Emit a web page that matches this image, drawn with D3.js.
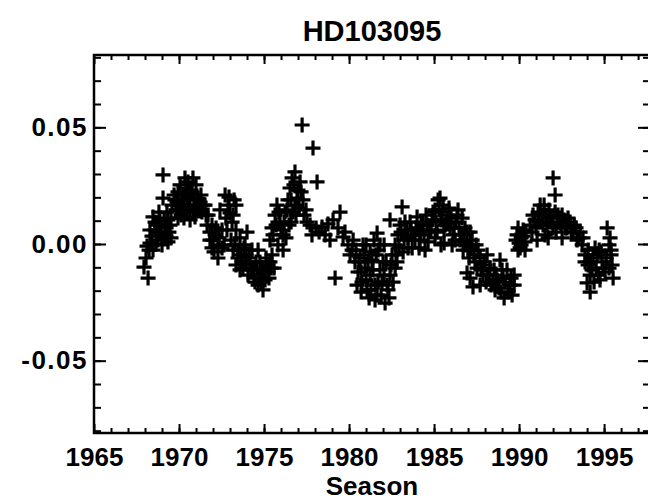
<!DOCTYPE html>
<html>
<head>
<meta charset="utf-8">
<script src="https://cdn.jsdelivr.net/npm/d3@7"></script>
<style>
	body { margin: 0; background: #fff; }
	svg text { font-family: "Liberation Sans", Arial, sans-serif; font-weight: bold; fill: #000; }
</style>
</head>
<body>
<svg id="chart" width="648" height="503"></svg>
<script>
//Star name and axis title.
const starName = 'HD103095';
const xTitle = 'Season';
//Labelled ticks.
const xTicks = [1965, 1970, 1975, 1980, 1985, 1990, 1995];
const yTicks = [-0.05, 0.00, 0.05];
//Observing season (year), one line per season group.
const seasonYear = [
	1967.94, 1968.18, 1968.06, 1968.24, 1968.29, 1968.41, 1968.47, 1968.29, 1968.12,
	1968.71, 1968.88, 1969.06, 1969.24, 1969.35, 1968.76, 1969.00, 1969.18, 1969.47, 1969.29, 1968.88, 1969.06, 1969.06, 1969.35, 1968.59,
	1968.59, 1968.76, 1968.94, 1969.12, 1969.24, 1969.41, 1969.53, 1968.65, 1968.47, 1968.82, 1969.53,
	1969.76, 1969.94, 1970.06, 1970.24, 1970.41, 1970.59, 1970.76, 1970.94, 1971.12, 1969.82, 1970.12, 1970.47, 1970.82, 1971.18, 1971.41, 1971.59, 1970.35, 1970.82, 1970.65, 1969.94, 1971.00, 1971.29,
	1969.59, 1969.71, 1969.88, 1970.00, 1970.18, 1970.29, 1970.47, 1970.65, 1970.71, 1970.88, 1971.06, 1971.24, 1971.35, 1971.53, 1970.29, 1970.94, 1970.06, 1970.53,
	1971.71, 1971.94, 1972.12, 1971.82, 1972.29, 1972.06, 1972.53, 1972.71, 1972.88, 1973.00, 1973.12, 1972.76, 1973.24, 1972.41, 1973.35, 1974.00, 1973.59, 1972.65, 1972.29,
	1971.65, 1971.82, 1972.00, 1972.18, 1972.35, 1972.53, 1971.94, 1972.82, 1973.06, 1973.18, 1973.35, 1972.94,
	1973.18, 1973.47, 1973.71, 1973.94, 1974.18, 1974.35, 1974.53, 1974.71, 1974.88, 1975.06, 1975.24, 1974.94, 1974.47, 1974.06, 1973.59, 1975.35, 1975.47, 1973.35, 1973.88, 1974.65, 1975.12, 1975.59,
	1973.29, 1973.47, 1973.65, 1973.76, 1973.94, 1974.12, 1974.24, 1974.41, 1974.59, 1974.76, 1974.82, 1975.00, 1975.18, 1975.29, 1975.41, 1974.29, 1974.65, 1973.82,
	1975.35, 1975.47, 1975.65, 1975.76, 1975.94, 1976.12, 1976.24, 1976.41, 1976.53, 1976.65, 1976.82, 1977.00, 1977.12, 1977.29, 1977.47, 1976.82, 1976.47, 1976.12, 1978.12, 1977.24, 1977.88, 1975.82, 1976.88,
	1975.53, 1975.71, 1975.88, 1976.00, 1976.18, 1976.35, 1976.29, 1976.59, 1976.71, 1976.94, 1977.06, 1977.18, 1977.35, 1976.76, 1976.59,
	1977.71, 1978.06, 1978.41, 1978.76, 1979.06, 1979.35, 1979.65, 1978.88, 1977.82, 1979.18, 1979.94, 1980.06, 1979.47,
	1977.53, 1978.24, 1978.59, 1979.76,
	1980.18, 1980.35, 1980.53, 1980.65, 1980.76, 1980.94, 1981.06, 1981.24, 1981.35, 1981.53, 1981.65, 1981.82, 1981.94, 1982.12, 1982.18, 1982.29, 1982.41, 1982.53, 1980.82, 1981.71, 1981.18, 1980.47, 1982.71, 1981.47,
	1980.24, 1980.41, 1980.59, 1980.71, 1980.88, 1981.00, 1981.12, 1981.29, 1981.41, 1981.59, 1981.71, 1981.88, 1982.00, 1982.06, 1982.24, 1982.35, 1982.47, 1982.59, 1980.71, 1981.53, 1981.00, 1981.24, 1981.82,
	1982.71, 1982.88, 1983.00, 1983.12, 1983.24, 1983.41, 1983.59, 1983.76, 1983.94, 1984.00, 1984.18, 1984.35, 1984.53, 1984.71, 1984.88, 1985.06, 1985.24, 1985.35, 1985.47, 1985.65, 1985.82, 1985.94, 1986.12, 1986.29, 1982.41, 1981.65, 1982.06, 1982.76, 1983.47, 1984.18, 1985.06, 1985.59, 1986.06,
	1982.82, 1982.94, 1983.06, 1983.18, 1983.29, 1983.47, 1983.65, 1983.71, 1983.88, 1984.06, 1984.12, 1984.24, 1984.41, 1984.59, 1984.65, 1984.82, 1984.94, 1985.12, 1985.18, 1985.29, 1985.41, 1985.53, 1985.59, 1985.76, 1985.88, 1986.00, 1986.18, 1986.35, 1986.24, 1984.47, 1985.41,
	1986.53, 1986.71, 1986.88, 1987.06, 1987.24, 1987.41, 1987.59, 1987.76, 1987.94, 1988.12, 1988.29, 1988.47, 1988.65, 1988.82, 1989.00, 1989.18, 1989.35, 1989.53, 1989.71, 1986.94, 1987.29, 1988.12, 1988.88, 1987.71, 1986.41, 1986.65, 1986.82, 1987.12,
	1986.47, 1986.65, 1986.76, 1986.94, 1987.00, 1987.18, 1987.35, 1987.47, 1987.53, 1987.71, 1987.88, 1988.00, 1988.06, 1988.24, 1988.35, 1988.53, 1988.59, 1988.71, 1988.94, 1989.06, 1989.12, 1989.29, 1989.47, 1989.59, 1989.71, 1987.12,
	1989.88, 1990.00, 1990.12, 1990.24, 1990.06, 1990.35, 1989.94,
	1989.82, 1989.94, 1990.12, 1990.24, 1990.41, 1990.35,
	1990.76, 1990.94, 1991.12, 1991.24, 1991.41, 1991.59, 1991.76, 1991.94, 1992.00, 1992.12, 1992.29, 1992.47, 1992.65, 1992.82, 1993.00, 1993.18, 1993.35, 1993.53, 1991.53, 1992.18, 1992.53,
	1990.65, 1990.82, 1991.00, 1991.18, 1991.35, 1991.47, 1991.65, 1991.82, 1992.00, 1992.12, 1992.35, 1992.53, 1992.71, 1992.88, 1993.06, 1993.24, 1993.41, 1993.59, 1991.71, 1991.06,
	1993.71, 1993.88, 1994.06, 1994.18, 1994.00, 1994.18, 1994.35, 1994.53, 1994.71, 1994.88, 1995.06, 1995.18, 1995.29, 1995.41, 1995.47, 1995.53, 1994.76, 1994.47,
	1993.76, 1993.88, 1994.06, 1994.18, 1994.29, 1994.41, 1994.59, 1994.65, 1994.82, 1994.94, 1995.12, 1995.35, 1995.41, 1995.29
];
//Relative variation, same order as seasonYear.
const deltaS = [
	-0.0099, -0.0146, -0.0060, -0.0026, 0.0004, 0.0034, 0.0116, 0.0060, -0.0009,
	0.0081, 0.0051, 0.0026, 0.0069, 0.0103, 0.0017, -0.0004, 0.0039, 0.0081, 0.0137, 0.0111, 0.0197, 0.0296, 0.0009, 0.0060,
	0.0094, 0.0051, 0.0077, 0.0103, 0.0034, 0.0051, 0.0111, 0.0000, -0.0026, 0.0137, 0.0026,
	0.0189, 0.0223, 0.0167, 0.0210, 0.0240, 0.0189, 0.0219, 0.0167, 0.0197, 0.0146, 0.0124, 0.0146, 0.0137, 0.0146, 0.0167, 0.0124, 0.0283, 0.0283, 0.0103, 0.0111, 0.0253, 0.0210,
	0.0167, 0.0210, 0.0180, 0.0146, 0.0189, 0.0159, 0.0201, 0.0167, 0.0231, 0.0197, 0.0146, 0.0180, 0.0137, 0.0167, 0.0111, 0.0116, 0.0253, 0.0266,
	0.0124, 0.0081, 0.0039, 0.0017, -0.0004, -0.0034, 0.0060, 0.0210, 0.0167, 0.0133, 0.0094, 0.0111, 0.0189, 0.0146, 0.0060, 0.0051, 0.0026, -0.0004, -0.0060,
	0.0081, 0.0051, 0.0017, 0.0069, 0.0026, -0.0017, -0.0017, 0.0060, 0.0017, 0.0124, 0.0167, 0.0201,
	-0.0026, -0.0060, -0.0077, -0.0047, -0.0090, -0.0111, -0.0077, -0.0133, -0.0103, -0.0154, -0.0120, -0.0197, -0.0163, -0.0133, -0.0111, -0.0077, -0.0047, -0.0090, -0.0004, -0.0026, -0.0060, -0.0103,
	-0.0004, -0.0026, -0.0047, -0.0103, -0.0077, -0.0060, -0.0111, -0.0146, -0.0103, -0.0077, -0.0163, -0.0120, -0.0090, -0.0146, -0.0103, -0.0026, -0.0176, -0.0017,
	0.0017, 0.0069, 0.0124, 0.0167, 0.0094, 0.0039, 0.0137, 0.0189, 0.0240, 0.0283, 0.0309, 0.0231, 0.0266, 0.0189, 0.0146, 0.0167, 0.0081, -0.0026, 0.0266, 0.0510, 0.0411, -0.0004, 0.0124,
	0.0039, 0.0081, 0.0137, 0.0060, 0.0094, 0.0146, 0.0026, 0.0189, 0.0137, 0.0197, 0.0154, 0.0223, 0.0124, 0.0253, 0.0094,
	0.0081, 0.0069, 0.0073, 0.0086, 0.0103, 0.0069, 0.0030, 0.0017, 0.0039, -0.0146, -0.0004, -0.0047, 0.0137,
	0.0094, 0.0051, 0.0039, 0.0051,
	-0.0026, -0.0077, -0.0120, -0.0060, -0.0163, -0.0103, -0.0197, -0.0133, -0.0069, -0.0176, -0.0219, -0.0111, -0.0163, -0.0253, -0.0077, -0.0197, -0.0133, -0.0047, -0.0004, -0.0026, -0.0231, -0.0176, -0.0103, 0.0017,
	0.0017, -0.0026, -0.0077, -0.0120, -0.0047, -0.0154, -0.0077, -0.0197, -0.0111, -0.0047, -0.0163, -0.0219, -0.0077, -0.0133, -0.0176, -0.0231, -0.0090, -0.0163, -0.0206, -0.0240, -0.0004, -0.0034, -0.0004,
	-0.0004, 0.0039, 0.0081, 0.0159, 0.0017, 0.0060, 0.0094, 0.0039, 0.0069, 0.0116, 0.0017, 0.0081, 0.0124, 0.0060, 0.0103, 0.0146, 0.0189, 0.0197, 0.0137, 0.0081, 0.0124, 0.0069, 0.0039, 0.0094, 0.0103, 0.0047, -0.0004, -0.0047, -0.0017, 0.0051, 0.0026, 0.0004, -0.0004,
	-0.0077, -0.0017, 0.0051, -0.0034, 0.0094, 0.0026, 0.0060, -0.0017, 0.0017, 0.0060, -0.0017, 0.0094, 0.0039, 0.0081, 0.0009, 0.0060, 0.0137, 0.0094, 0.0051, 0.0146, 0.0103, 0.0167, 0.0060, 0.0094, 0.0154, 0.0111, 0.0069, 0.0124, 0.0017, -0.0026, -0.0004,
	0.0017, -0.0026, -0.0004, -0.0060, 0.0017, -0.0077, -0.0026, -0.0111, -0.0077, -0.0133, -0.0103, -0.0163, -0.0133, -0.0189, -0.0111, -0.0163, -0.0206, -0.0146, -0.0176, -0.0124, -0.0184, -0.0047, -0.0069, -0.0176, 0.0146, 0.0111, 0.0069, 0.0051,
	0.0069, 0.0039, 0.0009, 0.0051, -0.0026, -0.0017, -0.0047, -0.0004, -0.0103, -0.0060, -0.0133, -0.0090, -0.0163, -0.0133, -0.0176, -0.0111, -0.0197, -0.0154, -0.0206, -0.0146, -0.0231, -0.0111, -0.0176, -0.0219, -0.0133, -0.0146,
	0.0039, 0.0004, 0.0026, 0.0060, -0.0017, 0.0009, 0.0069,
	0.0017, -0.0026, -0.0004, 0.0034, 0.0051, -0.0026,
	0.0051, 0.0103, 0.0137, 0.0167, 0.0081, 0.0124, 0.0146, 0.0094, 0.0283, 0.0210, 0.0124, 0.0081, 0.0103, 0.0069, 0.0094, 0.0051, 0.0069, 0.0026, 0.0039, 0.0051, 0.0026,
	0.0081, 0.0124, 0.0069, 0.0094, 0.0124, 0.0167, 0.0081, 0.0111, 0.0069, 0.0137, 0.0094, 0.0124, 0.0069, 0.0111, 0.0051, 0.0081, 0.0017, 0.0051, 0.0026, 0.0017,
	-0.0004, -0.0047, -0.0090, -0.0133, -0.0167, -0.0206, -0.0060, -0.0103, -0.0026, -0.0077, -0.0120, 0.0069, -0.0004, -0.0047, -0.0090, -0.0146, -0.0154, -0.0017,
	0.0026, -0.0077, -0.0026, -0.0077, -0.0111, -0.0163, -0.0047, -0.0133, -0.0034, -0.0103, -0.0060, 0.0026, -0.0026, -0.0103
];

const width = 648;
const height = 503;
const margin = {top: 55, right: -2, bottom: 70, left: 94};
const innerWidth = width - margin.left - margin.right;
const innerHeight = height - margin.top - margin.bottom;

const x = d3.scaleLinear().domain([1965, 1997.7]).range([0, innerWidth]);
const y = d3.scaleLinear().domain([-0.081, 0.081]).range([innerHeight, 0]);

const svg = d3.select('#chart')
	.attr('width', width)
	.attr('height', height);

const g_el = svg.append('g')
	.attr('transform', `translate(${margin.left}, ${margin.top})`);

//Ticks all point inward, on all four sides; no labels on these.
function tickAxis(gen, dx, dy) {
	g_el.append('g')
		.attr('transform', `translate(${dx}, ${dy})`)
		.call(gen)
		.call(g => g.select('.domain').remove())
		.call(g => g.selectAll('.tick text').remove())
		.call(g => g.selectAll('.tick line').attr('stroke', '#000').attr('stroke-width', 2));
}
const xMinor = d3.range(1966, 1998);
const yMinor = d3.range(-8, 9).map(d => d / 100);
tickAxis(d3.axisBottom(x).tickValues(xTicks).tickSize(-9), 0, innerHeight);
tickAxis(d3.axisBottom(x).tickValues(xMinor).tickSize(-5), 0, innerHeight);
tickAxis(d3.axisTop(x).tickValues(xTicks).tickSize(-9), 0, 0);
tickAxis(d3.axisTop(x).tickValues(xMinor).tickSize(-5), 0, 0);
tickAxis(d3.axisLeft(y).tickValues(yTicks).tickSize(-12), 0, 0);
tickAxis(d3.axisLeft(y).tickValues(yMinor).tickSize(-7), 0, 0);
tickAxis(d3.axisRight(y).tickValues(yTicks).tickSize(-12), innerWidth, 0);
tickAxis(d3.axisRight(y).tickValues(yMinor).tickSize(-7), innerWidth, 0);

//Tick labels.
g_el.append('g')
	.attr('transform', `translate(0, ${innerHeight})`)
	.call(d3.axisBottom(x).tickValues(xTicks).tickSize(0).tickPadding(15).tickFormat(d3.format('d')))
	.attr('font-size', 26)
	.attr('font-family', null)
	.call(g => g.select('.domain').remove());
g_el.append('g')
	.call(d3.axisLeft(y).tickValues(yTicks).tickSize(0).tickPadding(6).tickFormat(d => d.toFixed(2)))
	.attr('font-size', 26)
	.attr('font-family', null)
	.attr('letter-spacing', 1.5)
	.call(g => g.select('.domain').remove());

//Plot frame.
g_el.append('rect')
	.attr('width', innerWidth)
	.attr('height', innerHeight)
	.attr('fill', 'none')
	.attr('stroke', '#000')
	.attr('stroke-width', 2.5);

//Plus-sign markers.
const plus = {
	draw(context, size) {
		const r = Math.sqrt(size) / 2;
		context.moveTo(-r, 0);
		context.lineTo(r, 0);
		context.moveTo(0, -r);
		context.lineTo(0, r);
	}
};
const points = seasonYear.map((d, i) => ({year: d, value: deltaS[i]}));
g_el.append('g')
	.selectAll('path')
	.data(points)
	.join('path')
	.attr('d', d3.symbol(plus, 225))
	.attr('transform', d => `translate(${x(d.year)}, ${y(d.value)})`)
	.attr('fill', 'none')
	.attr('stroke', '#000')
	.attr('stroke-width', 3.2);

//Title and axis title.
svg.append('text')
	.text(starName)
	.attr('x', margin.left + x(1981.35))
	.attr('y', 41)
	.attr('text-anchor', 'middle')
	.attr('font-size', 29);
svg.append('text')
	.text(xTitle)
	.attr('x', margin.left + x(1981.35))
	.attr('y', 495)
	.attr('text-anchor', 'middle')
	.attr('font-size', 26);
</script>
</body>
</html>
